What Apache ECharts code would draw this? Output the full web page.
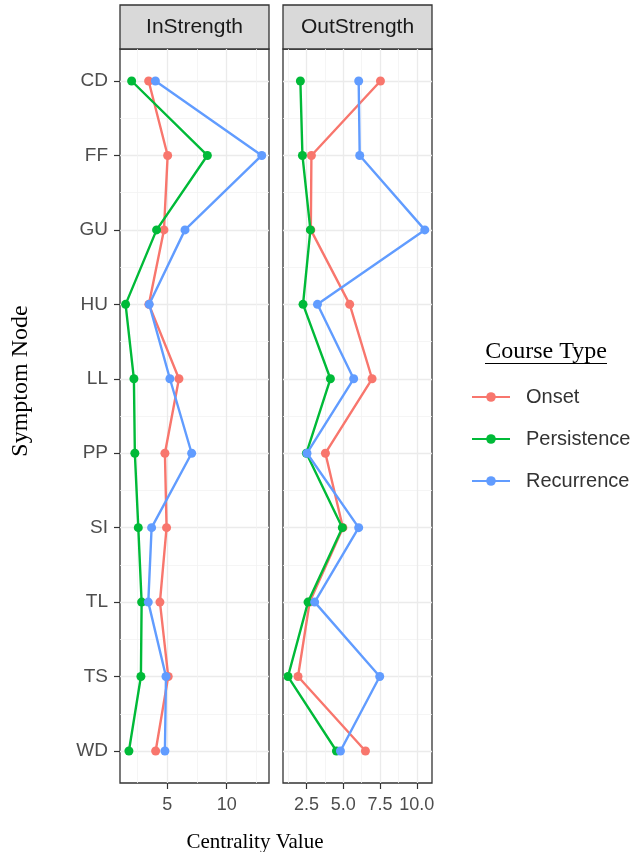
<!DOCTYPE html>
<html>
<head>
<meta charset="utf-8">
<script src="https://cdn.jsdelivr.net/npm/echarts@6/dist/echarts.min.js"></script>
<style>html,body{margin:0;padding:0;background:#fff;}#c{width:641px;height:852px;}</style>
</head>
<body>
<div id="c"></div>
<script>
const categories = ['CD','FF','GU','HU','LL','PP','SI','TL','TS','WD'];
const courseTypes = ['Onset','Persistence','Recurrence'];
const panels = ['InStrength','OutStrength'];
const inOnset        = [3.43, 5.03, 4.72, 3.45, 5.98, 4.80, 4.94, 4.38, 5.08, 4.02];
const inPersistence  = [2.00, 8.37, 4.10, 1.49, 2.19, 2.27, 2.56, 2.84, 2.78, 1.77];
const inRecurrence   = [4.00, 12.95, 6.49, 3.48, 5.22, 7.05, 3.68, 3.40, 4.89, 4.80];
const outOnset       = [7.53, 2.84, 2.80, 5.44, 6.96, 3.79, 4.98, 2.72, 1.93, 6.51];
const outPersistence = [2.09, 2.23, 2.77, 2.27, 4.13, 2.50, 4.94, 2.61, 1.25, 4.54];
const outRecurrence  = [6.05, 6.12, 10.54, 3.25, 5.71, 2.54, 6.05, 3.06, 7.48, 4.81];
const inMajorTicks = [5, 10];
const inMinorTicks = [2.5, 7.5, 12.5];
const outMajorTicks = [2.5, 5, 7.5, 10];
const outMinorTicks = [1.25, 3.75, 6.25, 8.75];
const tickLabelsOut = ['2.5','5.0','7.5','10.0'];

const colors = ['#F8766D', '#00BA38', '#619CFF'];
const seriesValues = [[inOnset, inPersistence, inRecurrence],[outOnset, outPersistence, outRecurrence]];

const yIdx = categories.map((c, i) => i);
const yMinor = categories.slice(0, -1).map((c, i) => i + 0.5);

const chart = echarts.init(document.getElementById('c'), null, {renderer: 'canvas'});

const panelLeft = [120, 283];
const panelW = 149, panelTop = 49, panelH = 734;

const grids = [], xAxes = [], yAxes = [], series = [];
const xLim = [[1.02, 13.56], [0.91, 11.03]];
const majors = [inMajorTicks, outMajorTicks];
const minors = [inMinorTicks, outMinorTicks];
const sans = 'Liberation Sans, Arial, sans-serif';
const serif = 'Liberation Serif, Times New Roman, serif';

panels.forEach((p, k) => {
  grids.push({left: panelLeft[k], top: panelTop, width: panelW, height: panelH, show: true,
    borderColor: '#333333', borderWidth: 1.3, backgroundColor: '#fff', containLabel: false});
  // major x
  xAxes.push({type: 'value', gridIndex: k, min: xLim[k][0], max: xLim[k][1], position: 'bottom',
    axisLine: {show: false, onZero: false},
    axisTick: {show: true, length: 6, lineStyle: {color: '#333', width: 1.2}, customValues: majors[k]},
    axisLabel: {show: true, customValues: majors[k], margin: 13, color: '#4d4d4d', fontSize: 18, fontFamily: sans,
      formatter: v => k === 1 ? tickLabelsOut[outMajorTicks.indexOf(v)] : String(v)},
    splitLine: {show: true, lineStyle: {color: '#ebebeb', width: 1.3}, customValues: majors[k]}
  });
  // minor x
  xAxes.push({type: 'value', gridIndex: k, min: xLim[k][0], max: xLim[k][1], position: 'top',
    axisLine: {show: false, onZero: false},
    axisTick: {show: false, customValues: minors[k]},
    axisLabel: {show: false, customValues: minors[k]},
    splitLine: {show: true, lineStyle: {color: '#f2f2f2', width: 0.8}, customValues: minors[k]}
  });
  // major y
  yAxes.push({type: 'value', gridIndex: k, inverse: true, min: -0.43, max: 9.43, position: 'left',
    axisLine: {show: false, onZero: false},
    axisTick: {show: k === 0, length: 6, lineStyle: {color: '#333', width: 1.2}, customValues: yIdx},
    axisLabel: {show: k === 0, customValues: yIdx, margin: 12, color: '#4d4d4d', fontSize: 19, fontFamily: sans,
      formatter: v => categories[Math.round(v)]},
    splitLine: {show: true, lineStyle: {color: '#ebebeb', width: 1.3}, customValues: yIdx}
  });
  // minor y
  yAxes.push({type: 'value', gridIndex: k, inverse: true, min: -0.43, max: 9.43, position: 'right',
    axisLine: {show: false, onZero: false},
    axisTick: {show: false, customValues: yMinor},
    axisLabel: {show: false, customValues: yMinor},
    splitLine: {show: true, lineStyle: {color: '#f2f2f2', width: 0.8}, customValues: yMinor}
  });
  courseTypes.forEach((ct, j) => {
    series.push({
      name: ct, type: 'line', xAxisIndex: k * 2, yAxisIndex: k * 2,
      data: seriesValues[k][j].map((v, i) => [v, i]),
      symbol: 'circle', symbolSize: 9, showSymbol: true,
      lineStyle: {color: colors[j], width: 2.4},
      itemStyle: {color: colors[j]},
      emphasis: {disabled: true}, animation: false, z: 3 + j
    });
  });
});

const graphics = [];
panels.forEach((p, k) => {
  graphics.push({type: 'rect', shape: {x: panelLeft[k], y: 5, width: panelW, height: 44},
    style: {fill: '#d9d9d9', stroke: '#333333', lineWidth: 1.3}});
  graphics.push({type: 'text', x: panelLeft[k] + panelW / 2, y: 27,
    style: {text: p, fill: '#1a1a1a', font: '21px ' + sans, textAlign: 'center', textVerticalAlign: 'middle'}});
});
graphics.push({type: 'text', x: 255, y: 842,
  style: {text: 'Centrality Value', fill: '#000', font: '21px ' + serif, textAlign: 'center', textVerticalAlign: 'middle'}});
graphics.push({type: 'text', x: 21, y: 381, rotation: Math.PI / 2,
  style: {text: 'Symptom Node', fill: '#000', font: '24px ' + serif, textAlign: 'center', textVerticalAlign: 'middle'}});
graphics.push({type: 'text', x: 546, y: 352,
  style: {text: 'Course Type', fill: '#000', font: '24px ' + serif, textAlign: 'center', textVerticalAlign: 'middle'}});
graphics.push({type: 'line', shape: {x1: 485, y1: 363.5, x2: 607, y2: 363.5}, style: {stroke: '#000', lineWidth: 1.2}});

chart.setOption({
  animation: false,
  backgroundColor: '#fff',
  grid: grids, xAxis: xAxes, yAxis: yAxes, series: series,
  legend: {data: courseTypes, orient: 'vertical', left: 466, top: 381, itemWidth: 38, itemHeight: 12, itemGap: 20,
    selectedMode: false,
    textStyle: {fontSize: 20, lineHeight: 22, color: '#333', fontFamily: sans, padding: [0, 0, 0, 11]}},
  graphic: graphics
});
</script>
</body>
</html>
